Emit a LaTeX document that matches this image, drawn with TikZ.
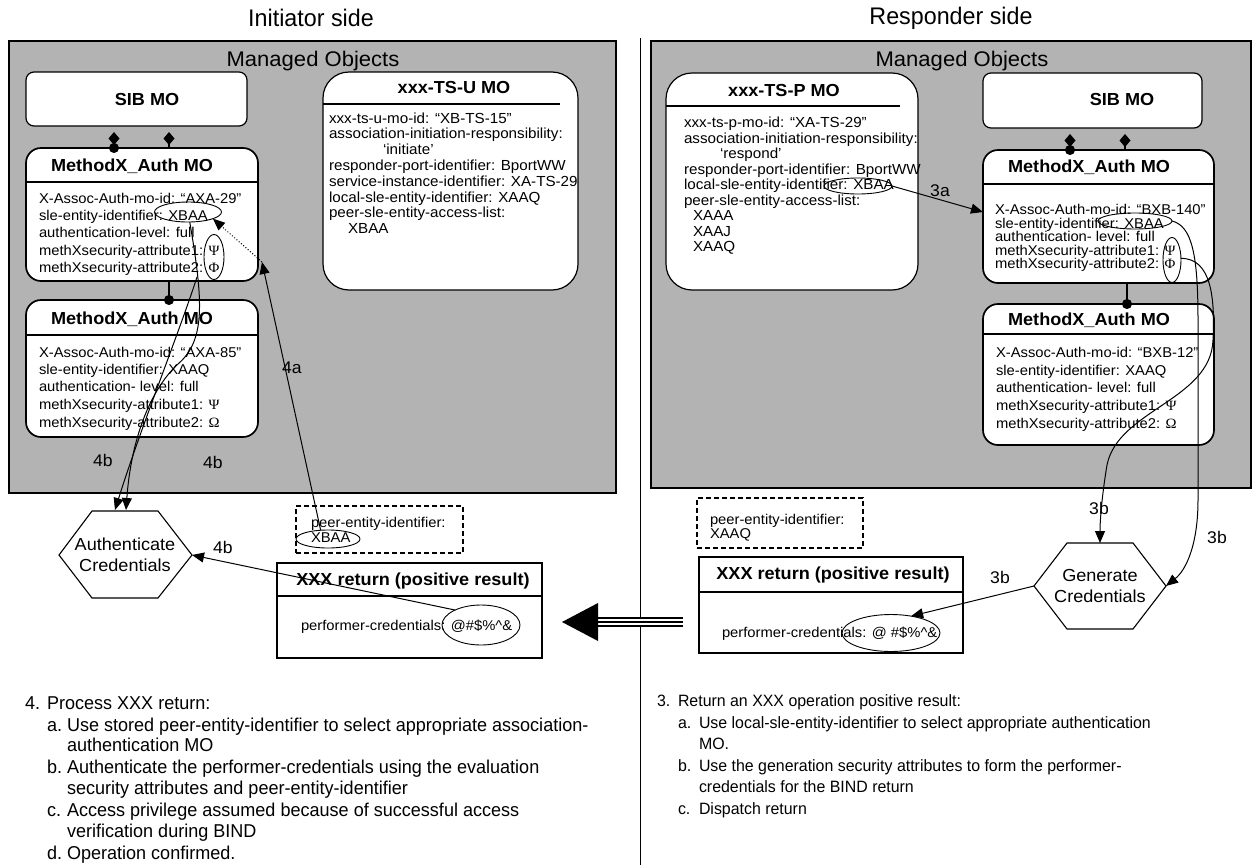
\documentclass[tikz,border=0pt]{standalone}
\usepackage{fontspec}
\setmainfont{Liberation Sans}[FakeStretch=1.04]
\newfontfamily\grk{Liberation Serif}[FakeStretch=1.04]
\newfontfamily\nar{Liberation Sans}[FakeStretch=0.97]
\usetikzlibrary{arrows.meta,shapes.geometric,calc}
\definecolor{mogray}{RGB}{179,179,179}
\newcommand\gkP{{\grk Ψ}}
\newcommand\gkF{{\grk Φ}}
\newcommand\gkO{{\grk Ω}}
\tikzset{
  every node/.style={inner sep=0pt, outer sep=0pt},
  graybox/.style={draw, fill=mogray, line width=1.2pt, anchor=north west},
  mobox/.style={draw, fill=white, line width=1.7pt, rounded corners=15pt, anchor=north west},
  sibbox/.style={draw, fill=white, line width=1.2pt, rounded corners=8pt, anchor=north west},
  tsbox/.style={draw, fill=white, line width=1.2pt, rounded corners=26pt, anchor=north west},
  retbox/.style={draw, fill=white, line width=1.1pt, anchor=north west},
  dbox/.style={draw, line width=1.4pt, dash pattern=on 5pt off 3pt, anchor=north west},
  ell/.style={draw, ellipse, line width=0.9pt},
  ttl/.style={font=\bfseries\fontsize{17.4}{19}\selectfont},
  bt/.style={anchor=base west, font=\fontsize{14.2}{16}\selectfont},
  ts/.style={anchor=base west, font=\fontsize{14.6}{16}\selectfont},
  lbl/.style={font=\fontsize{16.9}{18}\selectfont},
  mot/.style={font=\fontsize{21.2}{23}\selectfont},
  hdr/.style={font=\nar\fontsize{24}{26}\selectfont},
  ntl/.style={anchor=base west, font=\nar\fontsize{18.6}{21}\selectfont},
  ntr/.style={anchor=base west, font=\nar\fontsize{16.4}{19}\selectfont},
  hext/.style={align=center, font=\fontsize{17.4}{21}\selectfont},
  arr/.style={-{Triangle[length=12pt,width=10pt]}, line width=1pt},
  link/.style={line width=1.2pt},
}
\begin{document}
\begin{tikzpicture}[x=1pt,y=-1pt]
\fill[white] (0,0) rectangle (1259,865);
\useasboundingbox (0,0) rectangle (1259,865);

% headers and divider
\node[hdr] (hdrL) at (311,18) {Initiator side};
\node[hdr] (hdrR) at (951,18) {Responder side};
\coordinate (divT) at (640,38);
\coordinate (divB) at (640,865);
\draw[line width=1pt] (divT) -- (divB);

% managed object areas
\node[graybox, minimum width=607pt, minimum height=452pt] (lmo) at (9,41) {};
\node[graybox, minimum width=600pt, minimum height=447pt] (rmo) at (651,41) {};
\node[mot] (lmoT) at (313,61) {Managed Objects};
\node[mot] (rmoT) at (962,61) {Managed Objects};

% ---------------- LEFT ----------------
\node[sibbox, minimum width=221pt, minimum height=54pt] (lsib) at (26,72) {};
\node[ttl] (lsibT) at (147,100) {SIB MO};

\node[mobox, minimum width=232pt, minimum height=133pt] (lm1) at (26,148) {};
\draw[link] (26,182) -- (258,182);
\node[ttl] (lm1T) at (132,166) {MethodX\_Auth MO};
\node[bt] (lm1a) at (39,203) {X-Assoc-Auth-mo-id: “AXA-29”};
\node[bt] (lm1b) at (39,220) {sle-entity-identifier: XBAA};
\node[bt] (lm1c) at (39,237) {authentication-level: full};
\node[bt] (lm1d) at (39,255) {methXsecurity-attribute1: \gkP};
\node[bt] (lm1e) at (39,272) {methXsecurity-attribute2: \gkF};

\node[mobox, minimum width=232pt, minimum height=137pt] (lm2) at (26,300) {};
\draw[link] (26,335) -- (258,335);
\node[ttl] (lm2T) at (132,319) {MethodX\_Auth MO};
\node[bt] (lm2a) at (39,357) {X-Assoc-Auth-mo-id: “AXA-85”};
\node[bt] (lm2b) at (39,374) {sle-entity-identifier: XAAQ};
\node[bt] (lm2c) at (39,391) {authentication- level: full};
\node[bt] (lm2d) at (39,409) {methXsecurity-attribute1: \gkP};
\node[bt] (lm2e) at (39,427) {methXsecurity-attribute2: \gkO};

% SIB -> MethodX links
\coordinate (ls1a) at (114,132); \coordinate (ls1b) at (114,153);
\coordinate (ls2a) at (169,132); \coordinate (ls2b) at (169,148);
\coordinate (lm12a) at (169,281); \coordinate (lm12b) at (169,305);
\draw[link, {Diamond[length=13pt,width=11pt]}-{Circle[length=10pt]}] (ls1a) -- (ls1b);
\draw[link, {Diamond[length=13pt,width=11pt]}-] (ls2a) -- (ls2b);
\draw[link, -{Circle[length=10pt]}] (lm12a) -- (lm12b);

% xxx-TS-U MO
\node[tsbox, minimum width=255pt, minimum height=218pt] (tsu) at (323,72) {};
\draw[line width=1.2pt] (323,104) -- (560,104);
\node[ttl] (tsuT) at (454,88) {xxx-TS-U MO};
\node[ts] (tsu1) at (329,123) {xxx-ts-u-mo-id: “XB-TS-15”};
\node[ts] (tsu2) at (329,138.8) {association-initiation-responsibility:};
\node[ts] (tsu3) at (383,154.6) {‘initiate’};
\node[ts] (tsu4) at (329,170.4) {responder-port-identifier: BportWW};
\node[ts] (tsu5) at (329,186.2) {service-instance-identifier: XA-TS-29};
\node[ts] (tsu6) at (329,202) {local-sle-entity-identifier: XAAQ};
\node[ts] (tsu7) at (329,217.8) {peer-sle-entity-access-list:};
\node[ts] (tsu8) at (348,233.6) {XBAA};

% peer-entity-identifier (left)
\node[dbox, minimum width=167pt, minimum height=47pt] (ldb) at (296,506) {};
\node[bt] (ldb1) at (311,527) {peer-entity-identifier:};
\node[bt] (ldb2) at (311,542) {XBAA};

% XXX return (left)
\node[retbox, minimum width=265pt, minimum height=95pt] (lret) at (277,563) {};
\draw[line width=1.1pt] (277,596) -- (542,596);
\node[ttl] (lretT) at (413,581) {XXX return (positive result)};
\node[bt] (lret1) at (301,630) {performer-credentials: @\#\$\%\textasciicircum\&};

% Authenticate Credentials hexagon
\coordinate (hA1) at (59,555); \coordinate (hA2) at (92,511); \coordinate (hA3) at (158,511);
\coordinate (hA4) at (192,555); \coordinate (hA5) at (158,598); \coordinate (hA6) at (92,598);
\draw[line width=1.1pt, fill=white] (hA1) -- (hA2) -- (hA3) -- (hA4) -- (hA5) -- (hA6) -- cycle;
\node[hext] (hexA) at (125,555) {Authenticate\\Credentials};

% left ellipses
\node[ell, minimum width=67pt, minimum height=20pt] (eL1) at (188,212) {};
\node[ell, minimum width=20pt, minimum height=45pt] (eL2) at (214,257) {};
\node[ell, minimum width=64pt, minimum height=18pt] (eLd) at (328,539) {};
\node[ell, minimum width=78pt, minimum height=40pt] (eLr) at (481,625) {};

% arrows 4a
\coordinate (c4a) at (262,262);
\draw[arr] (eLd.130) -- (c4a);
\draw[arr, dotted] (c4a) -- (eL1.-15);
\node[lbl] (l4a) at (292,368) {4a};

% arrows 4b
\coordinate (a4s) at (197,277);
\coordinate (a4e) at (115,510);
\coordinate (b4e) at (126,510);
\draw[arr] (a4s) .. controls (180,330) and (140,430) .. (a4e);
\draw[arr] (eL1.-80) .. controls (203,300) and (206,340) .. (178,364) .. controls (150,390) and (131,440) .. (b4e);
\draw[arr] (eLr.150) -- (hA4);
\node[lbl] (l4b1) at (103,460) {4b};
\node[lbl] (l4b2) at (213,462) {4b};
\node[lbl] (l4b3) at (223,547) {4b};

% ---------------- RIGHT ----------------
\node[sibbox, minimum width=219pt, minimum height=55pt] (rsib) at (983,73) {};
\node[ttl] (rsibT) at (1122,100) {SIB MO};

\node[mobox, minimum width=231pt, minimum height=133pt] (rm1) at (983,150) {};
\draw[link] (983,184) -- (1214,184);
\node[ttl] (rm1T) at (1089,167) {MethodX\_Auth MO};
\node[bt] (rm1a) at (995,214.5) {X-Assoc-Auth-mo-id: “BXB-140”};
\node[bt] (rm1b) at (995,228) {sle-entity-identifier: XBAA};
\node[bt] (rm1c) at (995,241.5) {authentication- level: full};
\node[bt] (rm1d) at (995,255) {methXsecurity-attribute1: \gkP};
\node[bt] (rm1e) at (995,268.5) {methXsecurity-attribute2: \gkF};

\node[mobox, minimum width=231pt, minimum height=141pt] (rm2) at (983,304) {};
\draw[link] (983,334) -- (1214,334);
\node[ttl] (rm2T) at (1089,320) {MethodX\_Auth MO};
\node[bt] (rm2a) at (996,357.5) {X-Assoc-Auth-mo-id: “BXB-12”};
\node[bt] (rm2b) at (996,375.5) {sle-entity-identifier: XAAQ};
\node[bt] (rm2c) at (996,392.5) {authentication- level: full};
\node[bt] (rm2d) at (996,410.5) {methXsecurity-attribute1: \gkP};
\node[bt] (rm2e) at (996,428.5) {methXsecurity-attribute2: \gkO};

\coordinate (rs1a) at (1070,134); \coordinate (rs1b) at (1070,155);
\coordinate (rs2a) at (1125,134); \coordinate (rs2b) at (1125,150);
\coordinate (rm12a) at (1127,283); \coordinate (rm12b) at (1127,309);
\draw[link, {Diamond[length=13pt,width=11pt]}-{Circle[length=10pt]}] (rs1a) -- (rs1b);
\draw[link, {Diamond[length=13pt,width=11pt]}-] (rs2a) -- (rs2b);
\draw[link, -{Circle[length=10pt]}] (rm12a) -- (rm12b);

% xxx-TS-P MO
\node[tsbox, minimum width=252pt, minimum height=217pt] (tsp) at (666,73) {};
\draw[line width=1.2pt] (666,106) -- (900,106);
\node[ttl] (tspT) at (784,91) {xxx-TS-P MO};
\node[ts] (tsp1) at (684,127.5) {xxx-ts-p-mo-id: “XA-TS-29”};
\node[ts] (tsp2) at (684,143) {association-initiation-responsibility:};
\node[ts] (tsp3) at (720,158.5) {‘respond’};
\node[ts] (tsp4) at (684,174) {responder-port-identifier: BportWW};
\node[ts] (tsp5) at (684,189.5) {local-sle-entity-identifier: XBAA};
\node[ts] (tsp6) at (684,205) {peer-sle-entity-access-list:};
\node[ts] (tsp7) at (693,220.5) {XAAA};
\node[ts] (tsp8) at (693,236) {XAAJ};
\node[ts] (tsp9) at (693,251.5) {XAAQ};

% peer-entity-identifier (right)
\node[dbox, minimum width=166pt, minimum height=50pt] (rdb) at (697,498) {};
\node[bt] (rdb1) at (710,524) {peer-entity-identifier:};
\node[bt] (rdb2) at (710,538) {XAAQ};

% XXX return (right)
\node[retbox, minimum width=264pt, minimum height=96pt] (rret) at (699,557) {};
\draw[line width=1.1pt] (699,592) -- (963,592);
\node[ttl] (rretT) at (833,575) {XXX return (positive result)};
\node[bt] (rret1) at (722,637) {performer-credentials: @ \#\$\%\textasciicircum\&};

% Generate Credentials hexagon
\coordinate (hG1) at (1034,586); \coordinate (hG2) at (1067,543); \coordinate (hG3) at (1133,543);
\coordinate (hG4) at (1166,586); \coordinate (hG5) at (1133,629); \coordinate (hG6) at (1067,629);
\draw[line width=1.1pt, fill=white] (hG1) -- (hG2) -- (hG3) -- (hG4) -- (hG5) -- (hG6) -- cycle;
\node[hext] (hexG) at (1100,586) {Generate\\Credentials};

% right ellipses
\node[ell, minimum width=68pt, minimum height=16pt] (eR0) at (858,186) {};
\node[ell, minimum width=74pt, minimum height=16pt] (eR1) at (1135,221) {};
\node[ell, minimum width=18pt, minimum height=45pt] (eR2) at (1172,260) {};
\node[ell, minimum width=98pt, minimum height=37pt] (eRr) at (891,633) {};

% arrow 3a
\coordinate (c3a) at (983,212);
\draw[arr] (eR0.east) -- (c3a);
\node[lbl] (l3a) at (940,191) {3a};

% arrows 3b
\coordinate (g3top) at (1100,543);
\draw[arr] (eR2.10) .. controls (1212,258) and (1215,300) .. (1213,340) .. controls (1211,400) and (1118,410) .. (1107,465) .. controls (1102,495) and (1100,520) .. (g3top);
\draw[arr] (eR1.east) .. controls (1192,226) and (1198,255) .. (1198,320) -- (1198,500) .. controls (1198,545) and (1186,570) .. (hG4);
\draw[arr] (hG1) -- (eRr.40);
\node[lbl] (l3b1) at (1099,508) {3b};
\node[lbl] (l3b2) at (1217,537) {3b};
\node[lbl] (l3b3) at (1000,577) {3b};

% big return arrow
\coordinate (dA) at (683,622); \coordinate (dB) at (597,622);
\draw[line width=10pt] (dA) -- (dB);
\draw[white, line width=6pt] (dA) -- (dB);
\draw[line width=2pt] (dA) -- (dB);
\fill (598,603) -- (598,641) -- (562,622) -- cycle;

% ---------------- notes ----------------
\node[ntl] (n4) at (25,709.5) {4.};
\node[ntl] (n4t) at (47,709.5) {Process XXX return:};
\node[ntl] (n4a) at (47,731) {a.};
\node[ntl] (n4at) at (67,731) {Use stored peer-entity-identifier to select appropriate association-};
\node[ntl] (n4at2) at (67,751.5) {authentication MO};
\node[ntl] (n4b) at (47,773.5) {b.};
\node[ntl] (n4bt) at (67,773.5) {Authenticate the performer-credentials using the evaluation};
\node[ntl] (n4bt2) at (67,794.5) {security attributes and peer-entity-identifier};
\node[ntl] (n4c) at (47,816.5) {c.};
\node[ntl] (n4ct) at (67,816.5) {Access privilege assumed because of successful access};
\node[ntl] (n4ct2) at (67,837.5) {verification during BIND};
\node[ntl] (n4d) at (47,859) {d.};
\node[ntl] (n4dt) at (67,859) {Operation confirmed.};

\node[ntr] (n3) at (657,706) {3.};
\node[ntr] (n3t) at (678,706) {Return an XXX operation positive result:};
\node[ntr] (n3a) at (678,728) {a.};
\node[ntr] (n3at) at (699,728) {Use local-sle-entity-identifier to select appropriate authentication};
\node[ntr] (n3at2) at (699,749) {MO.};
\node[ntr] (n3b) at (678,771) {b.};
\node[ntr] (n3bt) at (699,771) {Use the generation security attributes to form the performer-};
\node[ntr] (n3bt2) at (699,792) {credentials for the BIND return};
\node[ntr] (n3c) at (678,814) {c.};
\node[ntr] (n3ct) at (699,814) {Dispatch return};
\end{tikzpicture}
\end{document}
